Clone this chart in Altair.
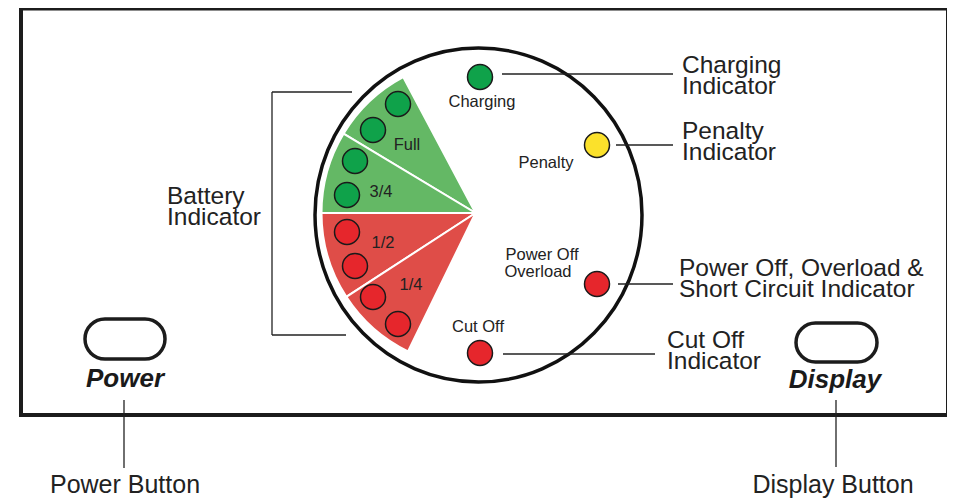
import math
import pandas as pd
import altair as alt

# ---------------- data ----------------
# battery wedges (clockwise degrees from 12 o'clock)
wedge_names = ["Full", "3/4", "1/2", "1/4"]
wedge_start = [301, 270, 237, 206]
wedge_end = [332, 301, 270, 237]
wedge_level = ["charged", "charged", "low", "low"]

# battery LEDs
batt_led_x = [398, 373, 355, 347, 347, 355, 373, 398]
batt_led_y = [104, 130, 161, 195, 232, 266, 297, 324]
batt_led_state = ["green"] * 4 + ["red"] * 4

# status LEDs
status_names = ["Charging", "Penalty", "Power Off Overload", "Cut Off"]
status_x = [480, 597, 597, 480]
status_y = [77, 145, 284, 353]
status_state = ["green", "yellow", "red", "red"]

# small labels inside the dial
small_text = ["Charging", "Penalty", "Power Off", "Overload", "Cut Off", "Full", "3/4", "1/2", "1/4"]
small_x = [482, 546, 542, 538, 478, 407, 381, 383, 411]
small_y = [107, 168, 260, 277, 332, 150, 197, 248, 290]

# callout labels (left aligned)
call_text = ["Charging", "Indicator", "Penalty", "Indicator", "Power Off, Overload &",
             "Short Circuit Indicator", "Cut Off", "Indicator", "Battery", "Indicator"]
call_x = [682, 682, 682, 682, 679, 679, 667, 667, 167, 167]
call_y = [73, 94, 139, 160, 276, 297, 348, 369, 204, 225]

# bottom labels (centred)
bottom_text = ["Power Button", "Display Button"]
bottom_x = [125, 833]
bottom_y = [493, 493]

button_text = ["Power", "Display"]
button_tx = [125, 835]
button_ty = [387, 388]
button_x1 = [85, 796]
button_x2 = [165, 877]
button_y1 = [319, 323]
button_y2 = [359, 362]

# leader / bracket lines
line_x1 = [502, 616, 618, 503, 272, 272, 272, 124, 836]
line_x2 = [673, 673, 673, 655, 352, 272, 346, 124, 836]
line_y1 = [74, 145, 284, 354, 92, 92, 335, 400, 400]
line_y2 = [74, 145, 284, 354, 92, 335, 335, 468, 467]

# frame and dial
frame = {"x1": [21], "x2": [948], "y1": [8.5], "y2": [415]}
dial = {"x": [478.5], "y": [215]}
wedge_cx, wedge_cy = 475.5, 213

# ---------------- styles ----------------
W, H = 939, 492
X0, Y0 = 8, 8
FONT = "Liberation Sans"
INK = "#222222"
xs = alt.Scale(domain=[X0, X0 + W], nice=False, zero=False)
ys = alt.Scale(domain=[Y0, Y0 + H], nice=False, zero=False, reverse=True)
led_colors = {"green": "#0fa24a", "red": "#e6262c", "yellow": "#fbe12b"}
wedge_colors = {"charged": "#64b865", "low": "#df4d48"}


def X(f):
    return alt.X(f, type="quantitative", scale=xs, axis=None)


def Y(f):
    return alt.Y(f, type="quantitative", scale=ys, axis=None)


frame_df = pd.DataFrame(frame)
frame_layer = alt.Chart(frame_df).mark_rect(filled=False, stroke="#1c1c1c", strokeWidth=4).encode(
    x=X("x1"), x2="x2", y=Y("y1"), y2="y2")

buttons_df = pd.DataFrame({"x1": button_x1, "x2": button_x2, "y1": button_y1, "y2": button_y2})
buttons_layer = alt.Chart(buttons_df).mark_rect(
    filled=False, stroke="#1c1c1c", strokeWidth=3.5, cornerRadius=20).encode(
    x=X("x1"), x2="x2", y=Y("y1"), y2="y2")

ellipse = "M -0.979 0 A 0.979 1 0 1 0 0.979 0 A 0.979 1 0 1 0 -0.979 0 Z"
dial_df = pd.DataFrame(dial)
dial_layer = alt.Chart(dial_df).mark_point(
    shape=ellipse, size=334 ** 2, filled=True, fill="white", stroke="#111111",
    strokeWidth=3.5, opacity=1).encode(x=X("x"), y=Y("y"))

lines_df = pd.DataFrame({"x1": line_x1, "x2": line_x2, "y1": line_y1, "y2": line_y2})
lines_layer = alt.Chart(lines_df).mark_rule(color=INK, strokeWidth=1.3).encode(
    x=X("x1"), x2="x2", y=Y("y1"), y2="y2")

wedge_df = pd.DataFrame({
    "name": wedge_names,
    "t1": [math.radians(a) for a in wedge_start],
    "t2": [math.radians(a) for a in wedge_end],
    "fill": [wedge_colors[l] for l in wedge_level],
    "cx": [wedge_cx] * 4,
    "cy": [wedge_cy] * 4,
})
wedge_layer = alt.Chart(wedge_df).mark_arc(radius=154, stroke="white", strokeWidth=2).encode(
    x=X("cx"), y=Y("cy"),
    theta=alt.Theta("t1:Q", scale=None), theta2=alt.Theta2("t2:Q"),
    color=alt.Color("fill:N", scale=None))

led_df = pd.DataFrame({
    "x": batt_led_x + status_x,
    "y": batt_led_y + status_y,
    "fill": [led_colors[s] for s in batt_led_state + status_state],
})
led_layer = alt.Chart(led_df).mark_point(
    shape="circle", size=625, filled=True, stroke="#1a1a1a", strokeWidth=1.5, opacity=1).encode(
    x=X("x"), y=Y("y"), fill=alt.Fill("fill:N", scale=None))

small_df = pd.DataFrame({"t": small_text, "x": small_x, "y": small_y})
small_layer = alt.Chart(small_df).mark_text(
    align="center", baseline="alphabetic", font=FONT, fontSize=16.5, color=INK).encode(
    x=X("x"), y=Y("y"), text="t:N")

call_df = pd.DataFrame({"t": call_text, "x": call_x, "y": call_y})
call_layer = alt.Chart(call_df).mark_text(
    align="left", baseline="alphabetic", font=FONT, fontSize=24.5, color=INK).encode(
    x=X("x"), y=Y("y"), text="t:N")

bottom_df = pd.DataFrame({"t": bottom_text, "x": bottom_x, "y": bottom_y})
bottom_layer = alt.Chart(bottom_df).mark_text(
    align="center", baseline="alphabetic", font=FONT, fontSize=25, color=INK).encode(
    x=X("x"), y=Y("y"), text="t:N")

btn_df = pd.DataFrame({"t": button_text, "x": button_tx, "y": button_ty})
btn_layer = alt.Chart(btn_df).mark_text(
    align="center", baseline="alphabetic", font=FONT, fontSize=26, fontWeight="bold",
    fontStyle="italic", color="#1a1a1a").encode(
    x=X("x"), y=Y("y"), text="t:N")

chart = alt.layer(
    frame_layer, dial_layer, lines_layer, wedge_layer, led_layer, buttons_layer,
    small_layer, call_layer, bottom_layer, btn_layer,
).properties(
    width=W, height=H, padding=0, autosize=alt.AutoSizeParams(type="none"),
    background="white",
).configure_view(stroke=None)

chart.save("out.html", embed_options={"renderer": "svg", "actions": False})
